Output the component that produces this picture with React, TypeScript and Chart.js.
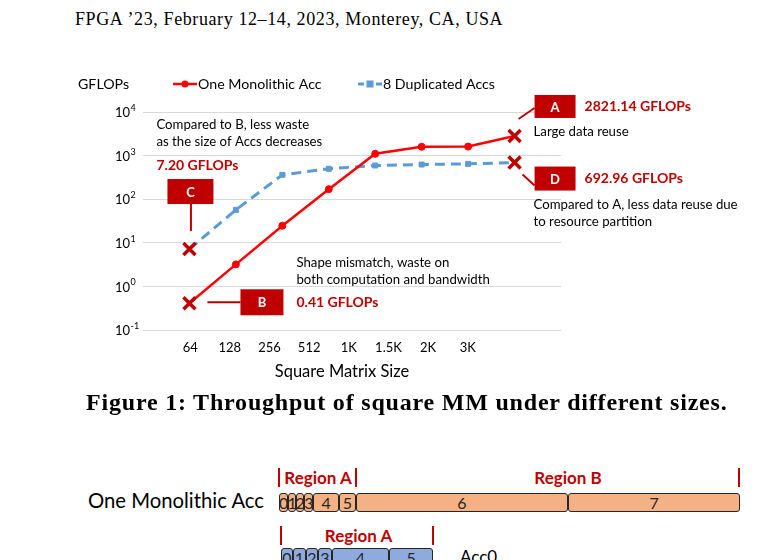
import React, { useEffect, useRef } from "react";
import { Chart, registerables } from "chart.js";
import type { Plugin } from "chart.js";

Chart.register(...registerables);

// x tick labels (matrix sizes) and the two series, in GFLOPs
const sizeLabels = ["64", "128", "256", "512", "1K", "1.5K", "2K", "3K"];
const monolithicGflops = [0.41, 3.2, 24.6, 170, 1100, 1590, 1610, 2821.14];
const duplicatedGflops = [7.2, 57, 362, 498, 592, 624, 646, 692.96];
const yTicks = [0.1, 1, 10, 100, 1000, 10000];
const yExponents = ["-1", "0", "1", "2", "3", "4"];

// callout texts, anchored to a point of a series
const callouts = [
  { letter: "A", series: 0, index: 7, notes: ["Large data reuse"] },
  { letter: "D", series: 1, index: 7, notes: ["Compared to A, less data reuse due", "to resource partition"] },
  { letter: "C", series: 1, index: 0, notes: ["Compared to B, less waste", "as the size of Accs decreases"] },
  { letter: "B", series: 0, index: 0, notes: ["Shape mismatch, waste on", "both computation and bandwidth"] },
];

// lower figure: segment edges of the two bars
const monoEdges = [279, 288.3, 296, 304.3, 313.3, 339, 355.7, 568.3, 740];
const accEdges = [280.7, 293.3, 305.7, 318.3, 331.7, 389, 433.3];

const RED = "#FF0000";
const DARK_RED = "#C00000";
const BLUE = "#5B9BD5";
const F = "Lato, 'Noto Sans', sans-serif";

// box / leader / text offsets from the anchor point, per letter
const layout: Record<string, any> = {
  A: { box: [20, -41, 61, -18], lead: [4, -17, 20, -28], value: [70, -29], notes: [19, -4] },
  D: { box: [20, 4, 61, 28], lead: [8, 12, 20, 23], value: [70, 16], notes: [19, 42] },
  C: { box: [-22, -70, 24, -45], lead: [1.5, -45, 1.5, -18], value: [-33, -84], notes: [-33, -124] },
  B: { box: [51, -14, 94, 12], lead: [18, -1, 51, -1], value: [107, -1], notes: [107, -41] },
};

const calloutPlugin: Plugin<"line"> = {
  id: "callouts",
  afterDraw(chart) {
    const { ctx, chartArea } = chart;
    const xs = chart.scales.x;
    const ys = chart.scales.y;
    const series = [monolithicGflops, duplicatedGflops];
    ctx.save();
    ctx.textBaseline = "middle";

    // y tick labels as 10 with a superscript exponent
    yTicks.forEach((v, i) => {
      const py = ys.getPixelForValue(v);
      ctx.fillStyle = "#000";
      ctx.textAlign = "left";
      ctx.font = `13px ${F}`;
      ctx.fillText("10", 115, py + 1);
      const w = ctx.measureText("10").width;
      ctx.font = `9px ${F}`;
      ctx.fillText(yExponents[i], 115 + w + 0.5, py - 4);
    });

    // x axis title
    ctx.font = `16.5px ${F}`;
    ctx.textAlign = "center";
    ctx.fillText("Square Matrix Size", (chartArea.left + chartArea.right) / 2 - 10, chartArea.bottom + 42);

    // axis unit + legend
    ctx.font = `14.2px ${F}`;
    ctx.fillStyle = "#000";
    ctx.textAlign = "left";
    ctx.fillText("GFLOPs", 78, 24);
    ctx.strokeStyle = RED;
    ctx.lineWidth = 2.5;
    ctx.beginPath();
    ctx.moveTo(173, 24);
    ctx.lineTo(197, 24);
    ctx.stroke();
    ctx.fillStyle = RED;
    ctx.beginPath();
    ctx.arc(185, 24, 3.5, 0, Math.PI * 2);
    ctx.fill();
    ctx.fillStyle = "#000";
    ctx.fillText(chart.data.datasets[0].label as string, 198, 24);
    ctx.strokeStyle = BLUE;
    ctx.lineWidth = 3;
    ctx.setLineDash([6, 3]);
    ctx.beginPath();
    ctx.moveTo(358, 24);
    ctx.lineTo(382, 24);
    ctx.stroke();
    ctx.setLineDash([]);
    ctx.fillStyle = BLUE;
    ctx.fillRect(366.5, 20.5, 7, 7);
    ctx.fillStyle = "#000";
    ctx.fillText(chart.data.datasets[1].label as string, 383, 24);

    // callouts
    callouts.forEach((c) => {
      const L = layout[c.letter];
      const v = series[c.series][c.index];
      const ax = xs.getPixelForValue(c.index);
      const ay = ys.getPixelForValue(v);
      ctx.strokeStyle = DARK_RED;
      ctx.lineWidth = 2;
      ctx.beginPath();
      ctx.moveTo(ax + L.lead[0], ay + L.lead[1]);
      ctx.lineTo(ax + L.lead[2], ay + L.lead[3]);
      ctx.stroke();
      const [x0, y0, x1, y1] = L.box;
      ctx.fillStyle = DARK_RED;
      ctx.fillRect(ax + x0, ay + y0, x1 - x0, y1 - y0);
      ctx.fillStyle = "#fff";
      ctx.font = `bold 13px ${F}`;
      ctx.textAlign = "center";
      ctx.fillText(c.letter, ax + (x0 + x1) / 2, ay + (y0 + y1) / 2 + 1);
      ctx.textAlign = "left";
      ctx.fillStyle = DARK_RED;
      ctx.font = `bold 14px ${F}`;
      ctx.fillText(`${v.toFixed(2)} GFLOPs`, ax + L.value[0], ay + L.value[1]);
      ctx.fillStyle = "#000";
      ctx.font = `13.2px ${F}`;
      c.notes.forEach((t, k) => {
        ctx.fillText(t, ax + L.notes[0], ay + L.notes[1] + k * 17);
      });
    });
    ctx.restore();
  },
};

const endStyle = <T,>(n: number, end: T, mid: T) =>
  Array.from({ length: n }, (_, i) => (i === 0 || i === n - 1 ? end : mid));

const Segments = ({ edges, top, fill }: { edges: number[]; top: number; fill: string }) => (
  <>
    {edges.slice(0, -1).map((x0, i) => (
      <div
        key={i}
        style={{
          position: "absolute",
          left: x0,
          top,
          width: edges[i + 1] - x0,
          height: 19,
          boxSizing: "border-box",
          border: "1.5px solid #262626",
          borderRadius: 3,
          background: fill,
          display: "flex",
          alignItems: "center",
          justifyContent: "center",
          font: `16px ${F}`,
          color: "#262626",
          whiteSpace: "nowrap",
        }}
      >
        {i}
      </div>
    ))}
  </>
);

const RegionBar = ({ x, top }: { x: number; top: number }) => (
  <div style={{ position: "absolute", left: x - 1, top, width: 2, height: 19, background: DARK_RED }} />
);

const RegionLabel = ({ text, cx, cy }: { text: string; cx: number; cy: number }) => (
  <div
    style={{
      position: "absolute",
      left: cx - 60,
      width: 120,
      top: cy - 11,
      height: 22,
      lineHeight: "22px",
      textAlign: "center",
      font: `bold 17px ${F}`,
      color: DARK_RED,
    }}
  >
    {text}
  </div>
);

export default function App() {
  const canvasRef = useRef<HTMLCanvasElement | null>(null);

  useEffect(() => {
    const canvas = canvasRef.current;
    if (!canvas) return;
    const n = monolithicGflops.length;
    const chart = new Chart(canvas, {
      type: "line",
      data: {
        datasets: [
          {
            label: "One Monolithic Acc",
            data: monolithicGflops.map((y, i) => ({ x: i, y })),
            borderColor: RED,
            borderWidth: 2.5,
            backgroundColor: RED,
            pointStyle: endStyle(n, "crossRot", "circle") as any,
            pointRadius: endStyle(n, 8.5, 3.5),
            pointBorderWidth: endStyle(n, 3.5, 1),
            pointBorderColor: endStyle(n, DARK_RED, RED),
            pointBackgroundColor: RED,
            tension: 0,
          },
          {
            label: "8 Duplicated Accs",
            data: duplicatedGflops.map((y, i) => ({ x: i, y })),
            borderColor: BLUE,
            borderWidth: 3,
            borderDash: [10, 6],
            backgroundColor: BLUE,
            pointStyle: endStyle(n, "crossRot", "rect") as any,
            pointRadius: endStyle(n, 8.5, 3.5),
            pointBorderWidth: endStyle(n, 3.5, 1),
            pointBorderColor: endStyle(n, DARK_RED, BLUE),
            pointBackgroundColor: BLUE,
            tension: 0,
          },
        ],
      },
      options: {
        responsive: false,
        animation: false,
        events: [],
        layout: { padding: { top: 52, right: 201, left: 0, bottom: 0 } },
        scales: {
          x: { type: "linear", min: -1, max: 8, display: false },
          sizes: {
            type: "linear",
            position: "bottom",
            min: -1.19,
            max: 9.35,
            afterBuildTicks: (s) => {
              s.ticks = sizeLabels.map((_, i) => ({ value: i }));
            },
            afterFit: (s) => {
              s.height = 60;
            },
            grid: { display: false, drawTicks: false },
            border: { display: false },
            ticks: {
              autoSkip: false,
              maxRotation: 0,
              padding: 10,
              color: "#000",
              font: { family: F, size: 13 },
              callback: (v) => sizeLabels[Number(v)] ?? "",
            },
          },
          y: {
            type: "logarithmic",
            min: 0.1,
            max: 10000,
            afterBuildTicks: (s) => {
              s.ticks = yTicks.map((value) => ({ value }));
            },
            afterFit: (s) => {
              s.width = 143;
            },
            grid: { color: "#D9D9D9", lineWidth: 1, drawTicks: false },
            border: { display: false },
            ticks: { display: false },
          },
        },
        plugins: {
          legend: { display: false },
          tooltip: { enabled: false },
        },
      },
      plugins: [calloutPlugin],
    });
    return () => chart.destroy();
  }, []);

  return (
    <div
      style={{
        position: "fixed",
        left: 0,
        top: 0,
        width: 762,
        height: 560,
        background: "#fff",
        overflow: "hidden",
      }}
    >
      <div
        style={{
          position: "absolute",
          left: 75,
          top: 9,
          height: 20,
          lineHeight: "20px",
          font: "18px 'Liberation Serif', serif",
          letterSpacing: "0.6px",
          color: "#000",
          whiteSpace: "nowrap",
        }}
      >
        FPGA ’23, February 12–14, 2023, Monterey, CA, USA
      </div>
      <div style={{ position: "absolute", left: 0, top: 60, width: 762, height: 330 }}>
        <canvas ref={canvasRef} width={762} height={330} />
      </div>
      <div
        style={{
          position: "absolute",
          left: 86,
          top: 389,
          height: 28,
          lineHeight: "28px",
          font: "bold 24px 'Liberation Serif', serif",
          letterSpacing: "0.8px",
          color: "#000",
          whiteSpace: "nowrap",
        }}
      >
        Figure 1: Throughput of square MM under different sizes.
      </div>

      <div
        style={{
          position: "absolute",
          left: 88,
          top: 488,
          height: 24,
          lineHeight: "24px",
          font: `20.3px ${F}`,
          color: "#000",
          whiteSpace: "nowrap",
        }}
      >
        One Monolithic Acc
      </div>
      <RegionBar x={279.3} top={468} />
      <RegionBar x={356} top={468} />
      <RegionBar x={739} top={468} />
      <RegionLabel text="Region A" cx={318} cy={478} />
      <RegionLabel text="Region B" cx={568} cy={478} />
      <Segments edges={monoEdges} top={493} fill="#F4B183" />

      <RegionBar x={280.7} top={526} />
      <RegionBar x={432.7} top={526} />
      <RegionLabel text="Region A" cx={358.5} cy={536} />
      <Segments edges={accEdges} top={548} fill="#8FAADC" />
      <div
        style={{
          position: "absolute",
          left: 460,
          top: 546,
          height: 22,
          lineHeight: "22px",
          font: `17px ${F}`,
          color: "#000",
          whiteSpace: "nowrap",
        }}
      >
        Acc0
      </div>
    </div>
  );
}
